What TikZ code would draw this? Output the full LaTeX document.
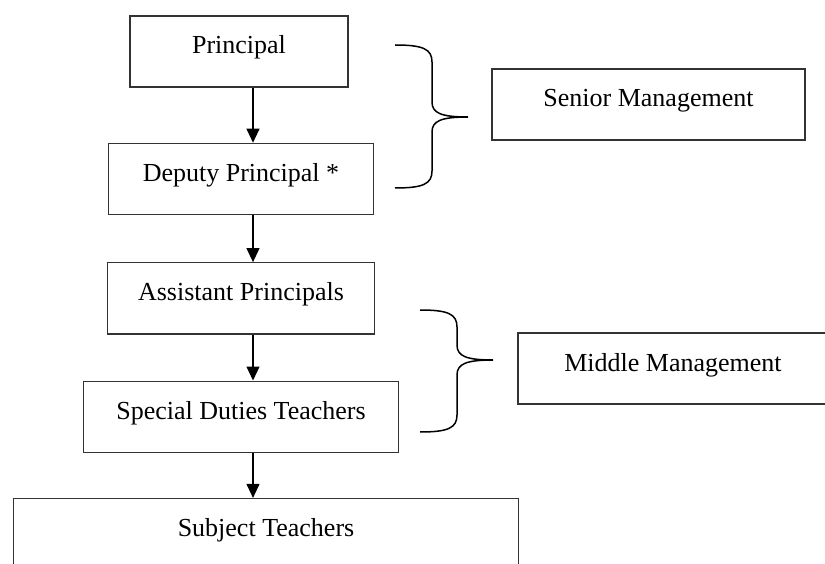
\documentclass[tikz,border=0pt]{standalone}
\usepackage{fontspec}
\setmainfont{Liberation Serif}
\usetikzlibrary{positioning,arrows.meta}

\tikzset{
  level/.style={draw=black!80, line width=1.4pt, rectangle,
    font=\fontsize{26}{30}\selectfont, text height=26pt, text depth=21pt,
    inner ysep=12pt, inner xsep=0pt},
  link/.style={line width=1.1pt, -{Triangle[width=13pt,length=14pt]}},
  curl/.style={line width=1.5pt},
}

% curly bracket: left x, top y, tip y, bottom y
\newcommand{\mgmtbrace}[4]{%
  \draw[curl] (#1,#2) .. controls (#1+28,#2) and (#1+37,#2+4) .. (#1+37,#2+17)
    -- (#1+37,#3-15) .. controls (#1+37,#3-4) and (#1+46,#3) .. (#1+73,#3)
    .. controls (#1+46,#3) and (#1+37,#3+4) .. (#1+37,#3+15)
    -- (#1+37,#4-17) .. controls (#1+37,#4-4) and (#1+28,#4) .. (#1,#4);}

\begin{document}
\begin{tikzpicture}[x=1pt, y=-1pt]
  \useasboundingbox (0,0) rectangle (825,564);

  \node[level, minimum width=218pt] (principal) at (239,51.5) {Principal};
  \node[level, minimum width=265pt, below=55pt of principal, xshift=2pt] (deputy) {Deputy Principal *};
  \node[level, minimum width=267pt, below=47pt of deputy] (assistant) {Assistant Principals};
  \node[level, minimum width=315pt, below=46pt of assistant] (special) {Special Duties Teachers};
  \node[level, minimum width=505pt, text depth=30pt, below=45pt of special, xshift=25pt] (subject) {Subject Teachers};

  \node[level, minimum width=313pt] (senior) at (648.5,104.5) {Senior Management};
  \node[level, minimum width=310pt] (middle) at (673,368.5) {Middle Management};

  % reporting line
  \coordinate (spine) at (253,0);
  \draw[link] (principal.south -| spine) -- (deputy.north -| spine);
  \draw[link] (deputy.south -| spine) -- (assistant.north -| spine);
  \draw[link] (assistant.south -| spine) -- (special.north -| spine);
  \draw[link] (special.south -| spine) -- (subject.north -| spine);

  \mgmtbrace{395}{45}{117}{188}
  \mgmtbrace{420}{310}{360}{432}
\end{tikzpicture}
\end{document}
